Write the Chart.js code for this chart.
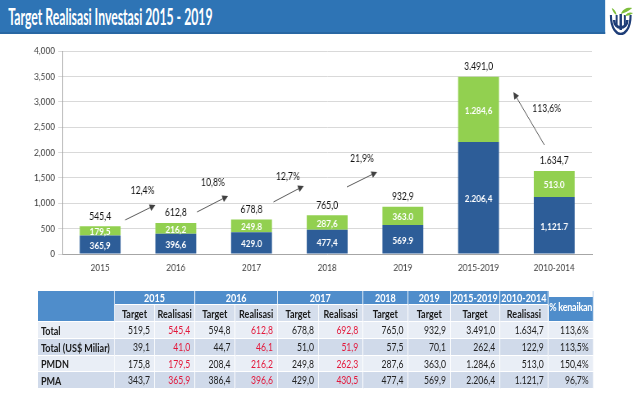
<!DOCTYPE html>
<html>
<head>
<meta charset="utf-8">
<script src="https://cdn.jsdelivr.net/npm/chart.js@4"></script>
<style>
  html, body { margin: 0; padding: 0; background: #fff; overflow: hidden; }
  /* the slide is laid out wide and squeezed horizontally, like the original */
  #slide { position: relative; width: 785px; height: 398px; transform: scaleX(0.82); transform-origin: 0 0; font-family: Lato, sans-serif; }
  #titlebar { position: absolute; left: 0; top: 0; width: 738px; height: 32px; background: #2E74B5; border-bottom: 2px solid #2867A3; }
  #title { position: absolute; left: 10px; top: 0; line-height: 32px; color: #fff; font-weight: bold; font-size: 23px; white-space: nowrap; transform-origin: 0 50%; }
  #logo { position: absolute; left: 741px; top: 6px; }
  #chart { position: absolute; left: 0; top: 36px; }
  #tbl { position: absolute; left: 46px; top: 291px; border-collapse: separate; border-spacing: 0; table-layout: fixed; font-size: 10.5px; color: #222; }
  #tbl td, #tbl th { padding: 0; border-right: 1px solid #fff; border-bottom: 1px solid #fff; white-space: nowrap; }
  #tbl .h1 th { background: #4F8DCB; color: #fff; font-weight: bold; text-align: center; font-size: 11px; }
  #tbl .h2 th { background: #D5DEEC; font-weight: bold; text-align: center; font-size: 11px; color: #1a1a1a; }
  #tbl th.corner { background: #4F8DCB; }
  #tbl th.pct { background: #4F8DCB; color: #fff; overflow: visible; box-shadow: inset 0 6px 0 #fff; letter-spacing: -0.3px; font-size: 11px; }
  #tbl td { text-align: right; padding-right: 5px; }
  #tbl td.name { text-align: left; padding-left: 4px; font-weight: bold; font-size: 11px; color: #1a1a1a; }
  #tbl tr.light td { background: #E9EEF6; }
  #tbl tr.dark td { background: #D0DAEA; }
  #tbl td.red { color: #E3173A; }
</style>
</head>
<body>
<div id="slide">
  <div id="titlebar"><span id="title">Target Realisasi Investasi 2015 - 2019</span></div>
  <svg id="logo" width="32" height="29" viewBox="0 0 32 29">
    <path d="M8 14 C8 24, 24 24, 24 14" stroke="#1F3E78" stroke-width="3.2" fill="none"/>
    <path d="M4 9 C4 24, 12 28, 16 28 C20 28, 28 24, 28 9" stroke="#1F3E78" stroke-width="2.6" fill="none"/>
    <path d="M16 8 L16 24" stroke="#1F3E78" stroke-width="3"/>
    <path d="M11 9 L11 20" stroke="#1F3E78" stroke-width="2.4"/>
    <path d="M21 9 L21 20" stroke="#1F3E78" stroke-width="2.4"/>
    <path d="M16 8 C19 2, 25 1, 30 2 C26 5, 21 7, 16 8Z" fill="#7DBE3C"/>
    <path d="M21 10 C24 6, 28 6, 31 7 C28 9, 25 10, 21 10Z" fill="#7DBE3C"/>
    <path d="M11 9 C10 5, 8 3, 5 2 C6 5, 8 8, 11 9Z" fill="#7DBE3C"/>
  </svg>
  <canvas id="chart" width="785" height="248"></canvas>
  <table id="tbl"></table>
</div>

<script>
// chart data
const categories = ['2015', '2016', '2017', '2018', '2019', '2015-2019', '2010-2014'];
const pma = [365.9, 396.6, 429.0, 477.4, 569.9, 2206.4, 1121.7];
const pmdn = [179.5, 216.2, 249.8, 287.6, 363.0, 1284.6, 513.0];
const pmaLabels = ['365,9', '396,6', '429.0', '477,4', '569.9', '2.206,4', '1,121.7'];
const pmdnLabels = ['179,5', '216,2', '249.8', '287,6', '363.0', '1.284,6', '513.0'];
const totalLabels = ['545,4', '612,8', '678,8', '765,0', '932,9', '3.491,0', '1.634,7'];
const growthLabels = ['12,4%', '10,8%', '12,7%', '21,9%', '113,6%'];

// table data
const rowNames = ['Total', 'Total (US$ Miliar)', 'PMDN', 'PMA'];
const target2015 = ['519,5', '39,1', '175,8', '343,7'];
const real2015 = ['545,4', '41,0', '179,5', '365,9'];
const target2016 = ['594,8', '44,7', '208,4', '386,4'];
const real2016 = ['612,8', '46,1', '216,2', '396,6'];
const target2017 = ['678,8', '51,0', '249,8', '429,0'];
const real2017 = ['692,8', '51,9', '262,3', '430,5'];
const target2018 = ['765,0', '57,5', '287,6', '477,4'];
const target2019 = ['932,9', '70,1', '363,0', '569,9'];
const target1519 = ['3.491,0', '262,4', '1.284,6', '2.206,4'];
const real1014 = ['1.634,7', '122,9', '513,0', '1.121,7'];
const kenaikan = ['113,6%', '113,5%', '150,4%', '96,7%'];

// arrows, in axis units (category index, value)
const arrows = [
    { from: [0.33, 670], to: [0.73, 965], at: [0.56, 1241] },
    { from: [1.28, 828], to: [1.69, 1143], at: [1.49, 1399] },
    { from: [2.29, 1025], to: [2.69, 1340], at: [2.48, 1517] },
    { from: [3.26, 1320], to: [3.66, 1616], at: [3.46, 1872] },
    { from: [5.87, 2148], to: [5.46, 3192], at: [5.9, 2857] }
];

const labelPlugin = {
    id: 'barLabels',
    afterDatasetsDraw(chart) {
        const ctx = chart.ctx;
        const x = chart.scales.x, y = chart.scales.y;
        const metaPma = chart.getDatasetMeta(0);
        const metaPmdn = chart.getDatasetMeta(1);
        ctx.save();
        ctx.textAlign = 'center';
        ctx.textBaseline = 'middle';

        // values inside the bars
        ctx.font = 'bold 10px Lato';
        ctx.fillStyle = '#fff';
        metaPma.data.forEach((bar, i) => ctx.fillText(pmaLabels[i], bar.x, (bar.y + bar.base) / 2 + 1));
        metaPmdn.data.forEach((bar, i) => ctx.fillText(pmdnLabels[i], bar.x, (bar.y + bar.base) / 2 + 1));

        // totals on top
        ctx.font = '10.5px Lato';
        ctx.fillStyle = '#111';
        metaPmdn.data.forEach((bar, i) => ctx.fillText(totalLabels[i], bar.x, bar.y - 10));

        // growth arrows
        arrows.forEach((a, i) => {
            const x0 = x.getPixelForValue(a.from[0]), y0 = y.getPixelForValue(a.from[1]);
            const x1 = x.getPixelForValue(a.to[0]), y1 = y.getPixelForValue(a.to[1]);
            const ang = Math.atan2(y1 - y0, x1 - x0);
            ctx.strokeStyle = '#595959';
            ctx.fillStyle = '#404040';
            ctx.lineWidth = 1;
            ctx.beginPath();
            ctx.moveTo(x0, y0);
            ctx.lineTo(x1 - 5 * Math.cos(ang), y1 - 5 * Math.sin(ang));
            ctx.stroke();
            ctx.beginPath();
            ctx.moveTo(x1, y1);
            ctx.lineTo(x1 - 7 * Math.cos(ang) + 3.5 * Math.sin(ang), y1 - 7 * Math.sin(ang) - 3.5 * Math.cos(ang));
            ctx.lineTo(x1 - 7 * Math.cos(ang) - 3.5 * Math.sin(ang), y1 - 7 * Math.sin(ang) + 3.5 * Math.cos(ang));
            ctx.closePath();
            ctx.fill();
            ctx.fillStyle = '#111';
            ctx.fillText(growthLabels[i], x.getPixelForValue(a.at[0]), y.getPixelForValue(a.at[1]));
        });
        ctx.restore();
    }
};

function buildTable() {
    const tbl = document.getElementById('tbl');
    const widths = [90, 49, 49, 49, 52, 50, 54, 55, 52, 60, 59, 55];
    let html = '<colgroup>' + widths.map(w => '<col style="width:' + w + 'px">').join('') + '</colgroup>';
    html += '<tr class="h1" style="height:13px"><th class="corner" rowspan="2"></th>' +
        '<th colspan="2">2015</th><th colspan="2">2016</th><th colspan="2">2017</th>' +
        '<th>2018</th><th>2019</th><th>2015-2019</th><th>2010-2014</th>' +
        '<th class="pct" rowspan="2">% kenaikan</th></tr>';
    html += '<tr class="h2" style="height:17px"><th>Target</th><th>Realisasi</th><th>Target</th><th>Realisasi</th>' +
        '<th>Target</th><th>Realisasi</th><th>Target</th><th>Target</th><th>Target</th><th>Realisasi</th></tr>';
    const cols = [target2015, real2015, target2016, real2016, target2017, real2017, target2018, target2019, target1519, real1014, kenaikan];
    const redCols = [1, 3, 5];
    const heights = [17, 17, 16, 17];
    rowNames.forEach((name, r) => {
        html += '<tr class="' + (r % 2 ? 'dark' : 'light') + '" style="height:' + heights[r] + 'px">';
        html += '<td class="name">' + name + '</td>';
        cols.forEach((col, c) => {
            html += '<td' + (redCols.includes(c) ? ' class="red"' : '') + '>' + col[r] + '</td>';
        });
        html += '</tr>';
    });
    tbl.innerHTML = html;
}

function fitTitle() {
    const t = document.getElementById('title');
    t.style.display = 'inline-block';
    t.style.transform = 'scaleX(' + (249 / t.offsetWidth) + ')';
}

buildTable();
fitTitle();

new Chart(document.getElementById('chart'), {
    type: 'bar',
    data: {
        labels: categories,
        datasets: [
            { label: 'PMA', data: pma, backgroundColor: '#2D5D98', barPercentage: 0.54, categoryPercentage: 1 },
            { label: 'PMDN', data: pmdn, backgroundColor: '#92D050', barPercentage: 0.54, categoryPercentage: 1 }
        ]
    },
    options: {
        responsive: false,
        animation: false,
        devicePixelRatio: 1,
        layout: { padding: { top: 15, right: 63, left: 0, bottom: 0 } },
        plugins: {
            legend: { display: false },
            tooltip: { enabled: false }
        },
        scales: {
            x: {
                stacked: true,
                grid: { drawOnChartArea: false, drawTicks: false },
                border: { color: '#A6A6A6' },
                ticks: { color: '#404040', font: { family: 'Lato', size: 10 }, padding: 8 },
                afterFit(scale) { scale.height = 30; }
            },
            y: {
                stacked: true,
                min: 0,
                max: 4000,
                ticks: { stepSize: 500, color: '#404040', font: { family: 'Lato', size: 10 }, padding: 4 },
                grid: { color: '#D9D9D9', tickLength: 5 },
                border: { color: '#A6A6A6' },
                afterFit(scale) { scale.width = 76; }
            }
        }
    },
    plugins: [labelPlugin]
});
</script>
</body>
</html>
